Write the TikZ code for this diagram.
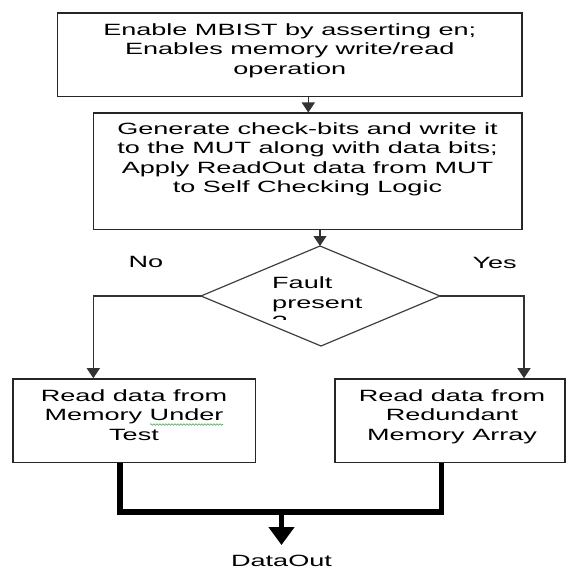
\documentclass[tikz,border=0pt]{standalone}
\usepackage{fontspec}
\setmainfont{Liberation Sans}[FakeStretch=1.66]
\usetikzlibrary{arrows.meta,decorations.pathmorphing}
\definecolor{spellgreen}{RGB}{70,170,70}

\begin{document}
\begin{tikzpicture}[x=1pt,y=-1pt,
  box/.style={draw=black!85, line width=1.6pt, inner sep=0pt, fill=white},
  txt/.style={font=\fontsize{16.3}{19.5}\selectfont, align=center, inner sep=0pt, text=black},
  flow/.style={draw=black!80, line width=1.2pt, -{Triangle[width=13pt,length=10pt]}},
  bus/.style={draw=black, line width=5.5pt, line join=miter},
  busarrow/.style={draw=black, line width=5.5pt, -{Triangle[width=25pt,length=18pt]}},
  squiggle/.style={draw=spellgreen, line width=0.6pt, decorate,
    decoration={snake, amplitude=0.8pt, segment length=3pt}},
]
\useasboundingbox (0,0) rectangle (566,569);

% process boxes
\node[box, minimum width=464.5pt, minimum height=83.5pt] (b1) at (289.75,54.75) {};
\node[box, minimum width=428.4pt, minimum height=116.2pt] (b2) at (307.5,171.4) {};
\node[box, minimum width=242.8pt, minimum height=83.5pt] (lb) at (134.1,420.75) {};
\node[box, minimum width=230pt, minimum height=83.5pt] (rb) at (450,420.75) {};

% box texts
\node[txt, anchor=north] (t1) at (289.75,23.2) {Enable MBIST by asserting en;\\Enables memory write/read\\operation};
\node[txt, anchor=north] (t2) at (307.5,122) {Generate check-bits and write it\\to the MUT along with data bits;\\Apply ReadOut data from MUT\\to Self Checking Logic};
\node[txt, anchor=north] (t3) at (134,389) {Read data from\\Memory Under\\Test};
\node[txt, anchor=north] (t4) at (452,389) {Read data from\\Redundant\\Memory Array};
% spell-check mark under "Under"
\draw[squiggle] (150,424.5) -- (223,424.5);

% decision diamond
\coordinate (dT) at (320,246);
\coordinate (dR) at (440,296);
\coordinate (dB) at (321,346);
\coordinate (dL) at (201,296);
\draw[draw=black!75, line width=1.2pt, line join=miter] (dT) -- (dR) -- (dB) -- (dL) -- cycle;
\begin{scope}
  \clip (250,265) rectangle (400,319);
  \node[txt, align=left, anchor=north west] (dq) at (272,276.5) {Fault\\present\\?};
\end{scope}

% branch labels
\node[txt] (no) at (146,262) {No};
\node[txt] (yes) at (494.6,262.5) {Yes};

% connectors
\coordinate (a1x) at (308.3,0);
\coordinate (lx) at (93.3,0);
\coordinate (rx) at (524,0);
\draw[flow] (b1.south -| a1x) -- (b2.north -| a1x);
\draw[flow] (b2.south -| dT) -- (dT);
\draw[flow] (dL) -| (lb.north -| lx);
\draw[flow] (dR) -| (rb.north -| rx);

% merged output
\node[txt] (dout) at (281.5,560.5) {DataOut};
\coordinate (busL) at (120,512);
\coordinate (busR) at (441.6,512);
\coordinate (join) at (281.5,512);
\draw[bus] (lb.south -| busL) -- (busL) -- (busR) -- (rb.south -| busR);
\draw[busarrow] (join) -- ([yshift=9.5pt]dout.north);
\end{tikzpicture}
\end{document}
